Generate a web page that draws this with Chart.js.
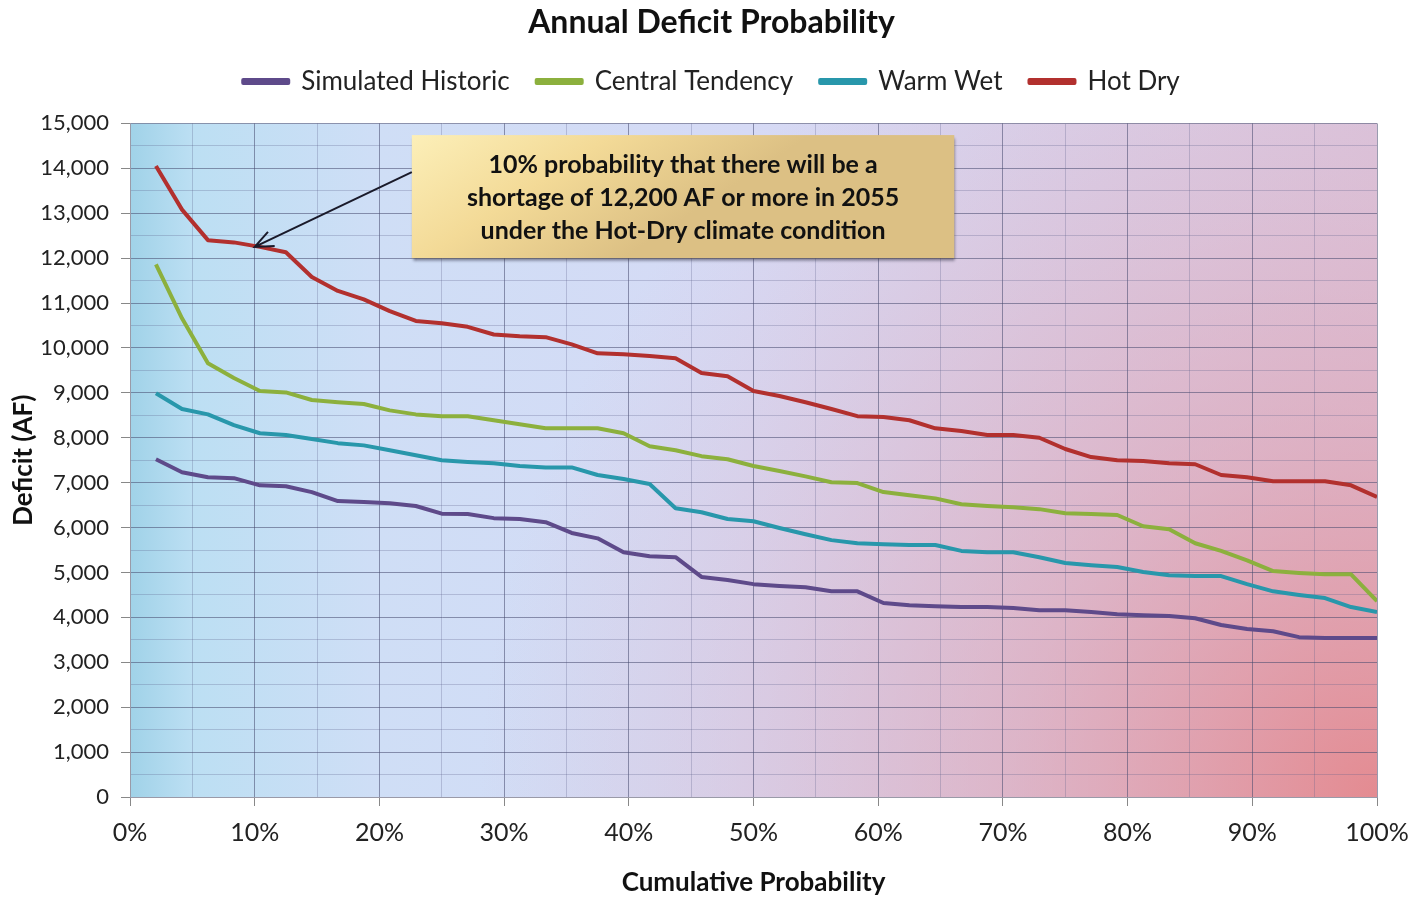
<!DOCTYPE html>
<html>
<head>
<meta charset="utf-8">
<script src="https://cdn.jsdelivr.net/npm/chart.js@4"></script>
<style>
  html, body { margin: 0; padding: 0; background: #fff; }
  #wrap { width: 1423px; height: 899px; }
</style>
</head>
<body>
<div id="wrap"><canvas id="deficitChart" width="1423" height="899"></canvas></div>
<script>
// cumulative probability (%) of each ranked year
const probability = [2.08, 4.17, 6.25, 8.33, 10.42, 12.5, 14.58, 16.67, 18.75, 20.83, 22.92, 25,
  27.08, 29.17, 31.25, 33.33, 35.42, 37.5, 39.58, 41.67, 43.75, 45.83, 47.92, 50,
  52.08, 54.17, 56.25, 58.33, 60.42, 62.5, 64.58, 66.67, 68.75, 70.83, 72.92, 75,
  77.08, 79.17, 81.25, 83.33, 85.42, 87.5, 89.58, 91.67, 93.75, 95.83, 97.92, 100];

const simulatedHistoric = [7520, 7230, 7120, 7100, 6940, 6920, 6790, 6590, 6570, 6540, 6480, 6310,
  6300, 6210, 6190, 6120, 5880, 5760, 5450, 5360, 5340, 4900, 4830, 4740,
  4700, 4670, 4580, 4580, 4320, 4270, 4250, 4230, 4230, 4210, 4160, 4160,
  4120, 4070, 4050, 4030, 3980, 3830, 3740, 3690, 3560, 3540, 3540, 3540];

const centralTendency = [11860, 10660, 9660, 9330, 9040, 9010, 8840, 8790, 8750, 8610, 8520, 8480,
  8480, 8390, 8300, 8210, 8210, 8210, 8100, 7810, 7720, 7590, 7520, 7370,
  7260, 7140, 7010, 6990, 6790, 6720, 6650, 6520, 6480, 6450, 6410, 6320,
  6300, 6280, 6030, 5960, 5650, 5480, 5270, 5030, 4990, 4960, 4960, 4360];

const warmWet = [8990, 8640, 8520, 8280, 8100, 8060, 7970, 7880, 7830, 7720, 7610, 7500,
  7460, 7430, 7370, 7340, 7340, 7170, 7080, 6970, 6430, 6340, 6190, 6140,
  5990, 5850, 5720, 5650, 5630, 5610, 5610, 5480, 5450, 5450, 5340, 5210,
  5160, 5120, 5010, 4940, 4920, 4920, 4740, 4580, 4500, 4430, 4230, 4120];

const hotDry = [14050, 13080, 12400, 12350, 12250, 12130, 11580, 11270, 11080, 10820, 10600, 10550,
  10470, 10300, 10260, 10240, 10080, 9880, 9860, 9820, 9770, 9440, 9370, 9040,
  8930, 8790, 8640, 8480, 8460, 8390, 8210, 8150, 8060, 8060, 8000, 7750,
  7570, 7500, 7480, 7430, 7410, 7170, 7120, 7030, 7030, 7030, 6940, 6680];

const seriesNames = ['Simulated Historic', 'Central Tendency', 'Warm Wet', 'Hot Dry'];
const seriesColors = ['#5e4a8a', '#8cb03d', '#2897ab', '#b2302e'];

const calloutLines = ['10% probability that there will be a',
  'shortage of 12,200 AF or more in 2055',
  'under the Hot-Dry climate condition'];
const calloutTarget = [10, 12250];

const FONT = 'Lato, "Open Sans", sans-serif';

function pts(values) {
  return values.map((v, i) => ({ x: probability[i], y: v }));
}

const allSeries = [simulatedHistoric, centralTendency, warmWet, hotDry];
const datasets = allSeries.map((vals, i) => ({
  label: seriesNames[i],
  data: pts(vals),
  borderColor: seriesColors[i],
  backgroundColor: seriesColors[i],
  borderWidth: 4,
  borderJoinStyle: 'round',
  pointRadius: 0,
  tension: 0
}));

// plot area gradient, blue on the left running to red at the lower right
const plotBackground = {
  id: 'plotBackground',
  beforeDraw(chart) {
    const { ctx, chartArea: a } = chart;
    const w = a.right - a.left, h = a.bottom - a.top;
    ctx.save();
    const g = ctx.createLinearGradient(a.left, 0, a.right, 0);
    g.addColorStop(0, '#a0d2e8');
    g.addColorStop(0.05, '#bcdff3');
    g.addColorStop(0.2, '#cfdef6');
    g.addColorStop(0.5, '#d6daf5');
    g.addColorStop(0.75, '#d8d2ec');
    g.addColorStop(1, '#d9cae3');
    ctx.fillStyle = g;
    ctx.fillRect(a.left, a.top, w, h);
    const r = ctx.createRadialGradient(a.right, a.bottom, 0, a.right, a.bottom, w * 0.72);
    r.addColorStop(0, 'rgba(229,132,136,0.9)');
    r.addColorStop(0.4, 'rgba(226,150,162,0.5)');
    r.addColorStop(1, 'rgba(225,170,190,0)');
    ctx.fillStyle = r;
    ctx.fillRect(a.left, a.top, w, h);
    ctx.restore();
  }
};

// yellow callout box with an arrow to the 10% point on Hot Dry
const callout = {
  id: 'callout',
  afterDraw(chart) {
    const { ctx } = chart;
    const xs = chart.scales.x, ys = chart.scales.y;
    const left = xs.getPixelForValue(22.6), right = xs.getPixelForValue(66.1);
    const top = ys.getPixelForValue(14740), bottom = ys.getPixelForValue(12000);
    ctx.save();
    ctx.shadowColor = 'rgba(40,40,60,0.6)';
    ctx.shadowOffsetX = 1;
    ctx.shadowOffsetY = 3;
    ctx.shadowBlur = 3;
    const g = ctx.createLinearGradient(left, top, left + 120, bottom + 60);
    g.addColorStop(0, '#fcefb8');
    g.addColorStop(0.5, '#f3da97');
    g.addColorStop(1, '#dcc084');
    ctx.fillStyle = g;
    ctx.fillRect(left, top, right - left, bottom - top);
    ctx.restore();

    ctx.save();
    ctx.fillStyle = '#111';
    ctx.font = 'bold 25px ' + FONT;
    ctx.textAlign = 'center';
    ctx.textBaseline = 'middle';
    const cx = (left + right) / 2;
    calloutLines.forEach((t, i) => ctx.fillText(t, cx, top + 30 + i * 33));

    // arrow
    const tx = xs.getPixelForValue(calloutTarget[0]), ty = ys.getPixelForValue(calloutTarget[1]);
    const sx = left, sy = top + 37;
    ctx.strokeStyle = '#1a1a2a';
    ctx.lineWidth = 2;
    ctx.beginPath();
    ctx.moveTo(sx, sy);
    ctx.lineTo(tx, ty);
    const ang = Math.atan2(sy - ty, sx - tx);
    const hl = 20;
    ctx.moveTo(tx + hl * Math.cos(ang - 0.4), ty + hl * Math.sin(ang - 0.4));
    ctx.lineTo(tx, ty);
    ctx.lineTo(tx + hl * Math.cos(ang + 0.4), ty + hl * Math.sin(ang + 0.4));
    ctx.stroke();
    ctx.restore();
  }
};

const majorGrid = 'rgba(70,72,110,0.55)';
const minorGrid = 'rgba(90,95,135,0.28)';

new Chart(document.getElementById('deficitChart').getContext('2d'), {
  type: 'line',
  data: { datasets },
  plugins: [plotBackground, callout],
  options: {
    responsive: false,
    animation: false,
    layout: { padding: { left: 8, right: 8, top: 0, bottom: 0 } },
    plugins: {
      title: {
        display: true,
        text: 'Annual Deficit Probability',
        color: '#111',
        font: { family: FONT, size: 32, weight: 'bold' },
        padding: { top: 3, bottom: 0 }
      },
      legend: {
        display: true,
        labels: {
          color: '#222',
          font: { family: FONT, size: 26 },
          boxWidth: 45,
          boxHeight: 3,
          padding: 27
        }
      },
      tooltip: { enabled: false }
    },
    scales: {
      x: {
        type: 'linear',
        min: 0,
        max: 100,
        afterFit(s) { s.height = 102; },
        ticks: {
          stepSize: 5,
          autoSkip: false,
          maxRotation: 0,
          padding: 12,
          color: '#222',
          font: { family: FONT, size: 25 },
          callback: v => (v % 10 === 0 ? v + '%' : '')
        },
        grid: {
          color: c => (c.tick && c.tick.value % 10 === 0 ? majorGrid : minorGrid),
          tickColor: c => (c.tick && c.tick.value % 10 === 0 ? '#888' : 'rgba(0,0,0,0)'),
          tickLength: 9,
          lineWidth: 1
        },
        border: { color: '#9a9aa8' },
        title: {
          display: true,
          text: 'Cumulative Probability',
          color: '#111',
          font: { family: FONT, size: 26, weight: 'bold' },
          padding: { top: 0, bottom: 1 }
        }
      },
      // empty strip between the legend and the plot
      xTop: {
        type: 'linear',
        position: 'top',
        min: 0,
        max: 1,
        afterFit(s) { s.height = 19; },
        ticks: { display: false },
        grid: { display: false, drawTicks: false },
        border: { display: false }
      },
      y: {
        min: 0,
        max: 15000,
        afterFit(s) { s.width = 122; },
        ticks: {
          stepSize: 500,
          autoSkip: false,
          padding: 12,
          color: '#222',
          font: { family: FONT, size: 22 },
          callback: v => (v % 1000 === 0 ? v.toLocaleString('en-US') : '')
        },
        grid: {
          color: c => (c.tick && c.tick.value % 1000 === 0 ? majorGrid : minorGrid),
          tickColor: c => (c.tick && c.tick.value % 1000 === 0 ? '#888' : 'rgba(0,0,0,0)'),
          tickLength: 9,
          lineWidth: 1
        },
        border: { color: '#9a9aa8' },
        title: {
          display: true,
          text: 'Deficit (AF)',
          color: '#111',
          font: { family: FONT, size: 26, weight: 'bold' },
          padding: { top: 0, bottom: 0 }
        }
      },
      // empty right-hand axis that keeps the plot clear of the right edge
      yRight: {
        position: 'right',
        min: 0,
        max: 1,
        afterFit(s) { s.width = 38; },
        ticks: { display: false },
        grid: { display: false, drawTicks: false },
        border: { display: false }
      }
    }
  }
});
</script>
</body>
</html>
